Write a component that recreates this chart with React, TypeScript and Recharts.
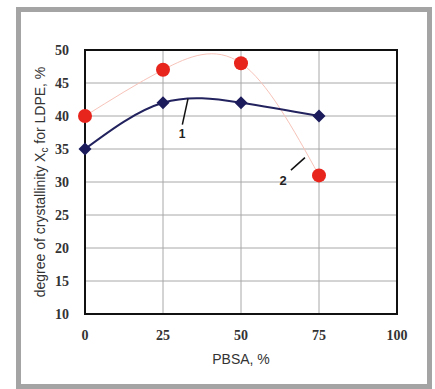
import React from 'react';
import { LineChart, Line, XAxis, YAxis, CartesianGrid, ReferenceArea, ReferenceLine, ReferenceDot } from 'recharts';

const pbsa = [0, 25, 50, 75];
const curve1 = [35, 42, 42, 40];
const curve2 = [40, 47, 48, 31];
const xTicks = [0, 25, 50, 75, 100];
const yTicks = [10, 15, 20, 25, 30, 35, 40, 45, 50];

const data = pbsa.map((x, i) => ({ x, c1: curve1[i], c2: curve2[i] }));

const Diamond = (props: any) => {
  const { cx, cy, index } = props;
  if (cx == null || cy == null) return <g key={`d${index}`} />;
  const s = 6.5;
  return (
    <path
      key={`d${index}`}
      d={`M${cx},${cy - s}L${cx + s},${cy}L${cx},${cy + s}L${cx - s},${cy}Z`}
      fill="#1c1c5c"
    />
  );
};

const Circle = (props: any) => {
  const { cx, cy, index } = props;
  if (cx == null || cy == null) return <g key={`c${index}`} />;
  return <circle key={`c${index}`} cx={cx} cy={cy} r={7} fill="#e8251d" />;
};

const YLabel = () => (
  <text
    x={0}
    y={0}
    transform="translate(45,182) rotate(-90)"
    textAnchor="middle"
    fontFamily="Liberation Sans, Arial, sans-serif"
    fontSize={14}
    fill="#333"
  >
    degree of crystallinity X<tspan fontSize={10} dy={3}>c</tspan>
    <tspan dy={-3}> for LDPE, %</tspan>
  </text>
);

const tickStyle = { fontFamily: 'Liberation Serif, Times New Roman, serif', fontSize: 14, fontWeight: 700, fill: '#333' };

export default function App() {
  return (
    <div style={{ position: 'absolute', left: 0, top: 0, width: 435, height: 389, background: '#fff' }}>
      <div
        style={{
          position: 'absolute',
          left: 16,
          top: 7,
          width: 406,
          height: 372,
          border: '5px solid #a4a4a4',
        }}
      />
      <div style={{ position: 'absolute', left: 0, top: 0 }}>
        <LineChart width={435} height={389} data={data} margin={{ top: 50, right: 38, bottom: 35, left: 20 }}>
          <CartesianGrid stroke="#a8a8a8" strokeWidth={1} />
          <XAxis
            dataKey="x"
            type="number"
            domain={[0, 100]}
            ticks={xTicks}
            tickLine={false}
            axisLine={false}
            tickMargin={10}
            tick={tickStyle}
            height={40}
            label={{ value: 'PBSA, %', position: 'insideBottom', offset: -10, style: { fontFamily: 'Liberation Sans, Arial, sans-serif', fontSize: 14, fill: '#333' } }}
          />
          <YAxis
            type="number"
            domain={[10, 50]}
            ticks={yTicks}
            tickLine={false}
            axisLine={false}
            tickMargin={10}
            tick={tickStyle}
            width={65}
            label={<YLabel />}
          />
          <ReferenceArea x1={0} x2={100} y1={10} y2={50} fill="none" stroke="#111" strokeWidth={2} ifOverflow="visible" />
          <Line type="natural" dataKey="c2" stroke="#f7c3b9" strokeWidth={1} dot={Circle} isAnimationActive={false} />
          <Line type="natural" dataKey="c1" stroke="#22225e" strokeWidth={2} dot={Diamond} isAnimationActive={false} />
          <ReferenceLine segment={[{ x: 33, y: 42.6 }, { x: 31.2, y: 38.7 }]} stroke="#111" strokeWidth={1.5} ifOverflow="visible" />
          <ReferenceLine segment={[{ x: 66, y: 31.8 }, { x: 70.5, y: 33.7 }]} stroke="#111" strokeWidth={1.5} ifOverflow="visible" />
          <ReferenceDot x={31.1} y={37.3} r={0} fill="none" stroke="none" label={{ value: '1', position: 'center', style: { fontFamily: 'Liberation Sans, Arial, sans-serif', fontSize: 12, fontWeight: 700, fill: '#222' } }} />
          <ReferenceDot x={63.5} y={30.2} r={0} fill="none" stroke="none" label={{ value: '2', position: 'center', style: { fontFamily: 'Liberation Sans, Arial, sans-serif', fontSize: 13, fontWeight: 700, fill: '#222' } }} />
        </LineChart>
      </div>
    </div>
  );
}
